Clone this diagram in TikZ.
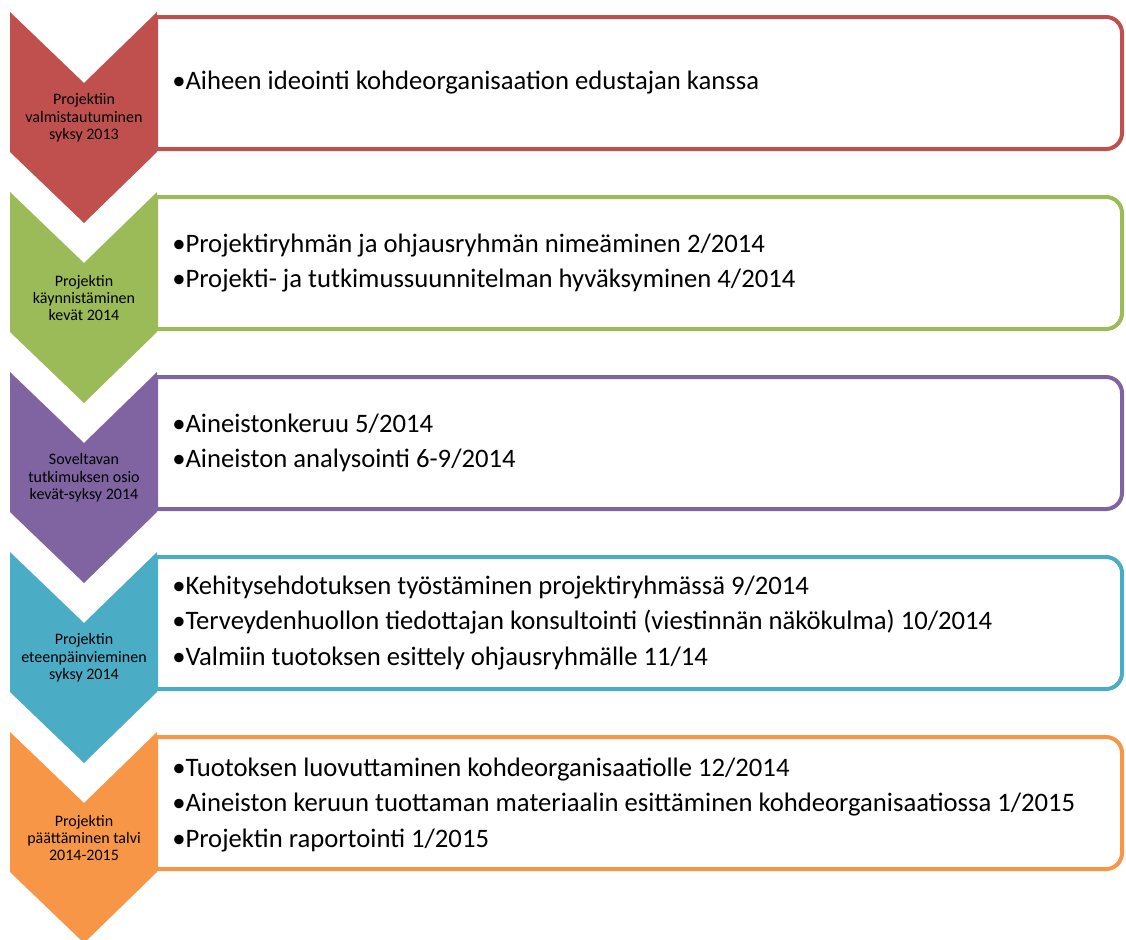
\documentclass[tikz,border=0pt]{standalone}
\usepackage{fontspec}
\setmainfont{Carlito}
\usepackage{tikz}
\definecolor{prepred}{RGB}{192,80,77}
\definecolor{startgreen}{RGB}{155,187,89}
\definecolor{studypurple}{RGB}{128,100,162}
\definecolor{devblue}{RGB}{75,172,198}
\definecolor{endorange}{RGB}{247,150,70}

\begin{document}
\begin{tikzpicture}[x=0.75pt,y=0.75pt,yscale=-1,xscale=1,
  chevron/.style={draw=none},
  listbox/.style={line width=3pt,fill=white},
  chevtext/.style={inner sep=0.75pt,align=center,font=\fontsize{12}{13}\selectfont},
  itemtext/.style={anchor=west,inner sep=0.75pt,align=left,font=\fontsize{20}{26.6}\selectfont}]
\useasboundingbox (0,0) rectangle (1126,939);

%Shape: Rounded Rectangle [id:prep] 
\draw [listbox,draw=prepred] (156,17) -- (1106,17) arc [start angle=-90,end angle=0,radius=16] -- (1122,133) arc [start angle=0,end angle=90,radius=16] -- (156,149) -- cycle ;
%Shape: Chevron [id:prep] 
\fill [chevron,fill=prepred] (10,12) -- (84,83) -- (157,12) -- (157,152) -- (84,223) -- (10,152) -- cycle ;

%Shape: Rounded Rectangle [id:start] 
\draw [listbox,draw=startgreen] (156,197) -- (1106,197) arc [start angle=-90,end angle=0,radius=16] -- (1122,313) arc [start angle=0,end angle=90,radius=16] -- (156,329) -- cycle ;
%Shape: Chevron [id:start] 
\fill [chevron,fill=startgreen] (10,192) -- (84,263) -- (157,192) -- (157,332) -- (84,403) -- (10,332) -- cycle ;

%Shape: Rounded Rectangle [id:study] 
\draw [listbox,draw=studypurple] (156,377) -- (1106,377) arc [start angle=-90,end angle=0,radius=16] -- (1122,493) arc [start angle=0,end angle=90,radius=16] -- (156,509) -- cycle ;
%Shape: Chevron [id:study] 
\fill [chevron,fill=studypurple] (10,372) -- (84,443) -- (157,372) -- (157,512) -- (84,583) -- (10,512) -- cycle ;

%Shape: Rounded Rectangle [id:dev] 
\draw [listbox,draw=devblue] (156,557) -- (1106,557) arc [start angle=-90,end angle=0,radius=16] -- (1122,673) arc [start angle=0,end angle=90,radius=16] -- (156,689) -- cycle ;
%Shape: Chevron [id:dev] 
\fill [chevron,fill=devblue] (10,552) -- (84,623) -- (157,552) -- (157,692) -- (84,763) -- (10,692) -- cycle ;

%Shape: Rounded Rectangle [id:end] 
\draw [listbox,draw=endorange] (156,737) -- (1106,737) arc [start angle=-90,end angle=0,radius=16] -- (1122,853) arc [start angle=0,end angle=90,radius=16] -- (156,869) -- cycle ;
%Shape: Chevron [id:end] 
\fill [chevron,fill=endorange] (10,732) -- (84,803) -- (157,732) -- (157,872) -- (84,943) -- (10,872) -- cycle ;


% Text Node
\draw (84,118) node (prepLabel) [chevtext] {Projektiin\\valmistautuminen\\syksy 2013};
% Text Node
\draw (171,83) node (prepItems) [itemtext] {•Aiheen ideointi kohdeorganisaation edustajan kanssa};
% Text Node
\draw (84,298) node (startLabel) [chevtext] {Projektin\\käynnistäminen\\kevät 2014};
% Text Node
\draw (171,263) node (startItems) [itemtext] {•Projektiryhmän ja ohjausryhmän nimeäminen 2/2014\\•Projekti- ja tutkimussuunnitelman hyväksyminen 4/2014};
% Text Node
\draw (84,478) node (studyLabel) [chevtext] {Soveltavan\\tutkimuksen osio\\kevät-syksy 2014};
% Text Node
\draw (171,443) node (studyItems) [itemtext] {•Aineistonkeruu 5/2014\\•Aineiston analysointi 6-9/2014};
% Text Node
\draw (84,658) node (devLabel) [chevtext] {Projektin\\eteenpäinvieminen\\syksy 2014};
% Text Node
\draw (171,623) node (devItems) [itemtext] {•Kehitysehdotuksen työstäminen projektiryhmässä 9/2014\\•Terveydenhuollon tiedottajan konsultointi (viestinnän näkökulma) 10/2014\\•Valmiin tuotoksen esittely ohjausryhmälle 11/14};
% Text Node
\draw (84,838) node (endLabel) [chevtext] {Projektin\\päättäminen talvi\\2014-2015};
% Text Node
\draw (171,805) node (endItems) [itemtext] {•Tuotoksen luovuttaminen kohdeorganisaatiolle 12/2014\\•Aineiston keruun tuottaman materiaalin esittäminen kohdeorganisaatiossa 1/2015\\•Projektin raportointi 1/2015};

\end{tikzpicture}
\end{document}
